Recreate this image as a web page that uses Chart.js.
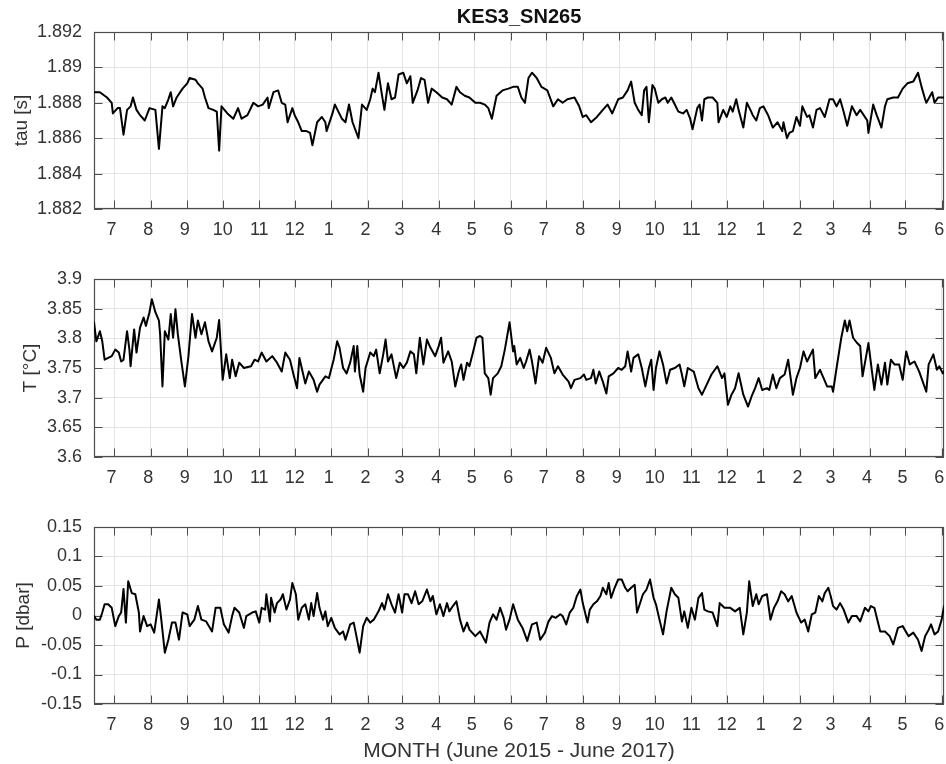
<!DOCTYPE html>
<html>
<head>
<meta charset="utf-8">
<script src="https://cdn.jsdelivr.net/npm/chart.js@4.4.1/dist/chart.umd.min.js"></script>
<style>
html,body{margin:0;padding:0;background:#fff;}
#wrap{position:relative;width:946px;height:764px;overflow:hidden;background:#fff;}
canvas{position:absolute;left:0;}
</style>
</head>
<body>
<div id="wrap">
<canvas id="c1" width="946" height="250" style="top:0px"></canvas>
<canvas id="c2" width="946" height="245" style="top:250px"></canvas>
<canvas id="c3" width="946" height="269" style="top:495px"></canvas>
</div>
<script>
// ---- axis definitions (days counted from 1 July 2015) ----
const monthStartDays = [0,31,62,92,123,153,184,215,244,275,305,336,366,397,428,458,489,519,550,581,609,640,670,701];
const monthLabels = ['7','8','9','10','11','12','1','2','3','4','5','6','7','8','9','10','11','12','1','2','3','4','5','6'];
const dayMin = -17;
const dayMax = 703;
const tauTicks = [1.882,1.884,1.886,1.888,1.89,1.892];
const tempTicks = [3.6,3.65,3.7,3.75,3.8,3.85,3.9];
const presTicks = [-0.15,-0.1,-0.05,0,0.05,0.1,0.15];

// ---- tau [s] ----
const tauDay = [-17,-12,-6,-2,-1,3,5,8,11,14,16,19,22,26,30,35,38,41,43,46,48,50,53,58,62,64,69,71,75,77,80,84,87,89,91,96,101,105,108,113,118,122,126,130,131,135,139,142,145,147,151,153,156,159,163,166,168,172,176,179,180,185,187,190,193,196,199,202,207,210,214,217,219,221,224,227,229,232,235,238,241,245,248,251,253,257,260,263,266,269,273,278,282,286,290,293,297,301,306,310,314,317,320,324,329,334,338,342,345,348,351,354,358,362,367,372,376,380,384,390,394,397,400,404,409,414,418,422,427,431,435,438,441,444,447,449,451,453,456,458,461,464,467,469,472,475,478,482,485,488,490,494,496,498,500,503,507,511,512,516,519,522,524,527,529,533,536,539,541,544,547,550,554,558,562,566,567,570,572,575,578,581,583,587,589,592,595,598,602,606,609,612,615,618,621,625,629,632,634,638,639,643,646,650,653,655,660,664,668,672,677,681,684,687,688,693,695,698,703];
const tauVal = [1.8886,1.8886,1.8883,1.8880,1.8874,1.8877,1.8877,1.8862,1.8876,1.8878,1.8883,1.8876,1.8873,1.8870,1.8877,1.8876,1.8854,1.8878,1.8877,1.8882,1.8886,1.8878,1.8883,1.8888,1.8891,1.8894,1.8893,1.8891,1.8888,1.8883,1.8877,1.8876,1.8875,1.8853,1.8878,1.8874,1.8871,1.8877,1.8871,1.8873,1.8880,1.8878,1.8879,1.8883,1.8877,1.8886,1.8887,1.8880,1.8879,1.8869,1.8877,1.8873,1.8869,1.8864,1.8864,1.8863,1.8856,1.8869,1.8872,1.8869,1.8864,1.8874,1.8879,1.8875,1.8871,1.8869,1.8879,1.8869,1.8860,1.8879,1.8876,1.8882,1.8888,1.8886,1.8897,1.8884,1.8876,1.8891,1.8882,1.8883,1.8896,1.8897,1.8891,1.8895,1.8880,1.8887,1.8894,1.8893,1.8880,1.8888,1.8886,1.8883,1.8882,1.8879,1.8889,1.8886,1.8884,1.8883,1.8880,1.8880,1.8879,1.8877,1.8871,1.8884,1.8887,1.8888,1.8889,1.8889,1.8883,1.8880,1.8894,1.8897,1.8894,1.8889,1.8887,1.8878,1.8882,1.8880,1.8882,1.8883,1.8878,1.8872,1.8873,1.8869,1.8872,1.8876,1.8879,1.8874,1.8882,1.8883,1.8887,1.8892,1.8880,1.8876,1.8873,1.8887,1.8889,1.8869,1.8890,1.8888,1.8880,1.8882,1.8883,1.8880,1.8883,1.8879,1.8875,1.8874,1.8876,1.8871,1.8865,1.8877,1.8879,1.8870,1.8882,1.8883,1.8883,1.8880,1.8869,1.8876,1.8872,1.8878,1.8875,1.8882,1.8876,1.8866,1.8880,1.8876,1.8873,1.8870,1.8877,1.8878,1.8873,1.8866,1.8869,1.8864,1.8869,1.8860,1.8863,1.8864,1.8872,1.8867,1.8878,1.8872,1.8873,1.8866,1.8876,1.8877,1.8872,1.8882,1.8882,1.8878,1.8882,1.8875,1.8867,1.8878,1.8873,1.8876,1.8874,1.8870,1.8863,1.8879,1.8873,1.8866,1.8878,1.8882,1.8883,1.8883,1.8888,1.8891,1.8892,1.8897,1.8889,1.8882,1.8880,1.8886,1.8880,1.8883,1.8883];

// ---- T [degC] ----
const tempDay = [-17,-15,-12,-10,-8,-5,-2,1,4,6,8,11,13,14,17,19,22,25,27,30,32,35,38,39,41,43,46,48,50,52,54,57,60,63,66,69,71,74,77,80,83,87,89,92,95,98,100,103,106,110,116,119,122,125,129,134,138,142,145,149,152,155,157,162,165,169,172,174,179,182,186,189,191,194,197,200,203,204,206,208,211,213,217,220,222,225,228,230,232,235,239,242,245,248,251,254,256,259,262,265,268,272,275,277,279,283,286,289,292,294,296,299,301,304,307,310,312,314,317,319,321,325,328,331,333,335,338,339,341,344,347,349,352,354,357,360,363,366,370,373,376,380,385,387,390,395,398,400,404,406,408,411,414,417,419,423,427,430,433,435,438,440,444,447,450,453,455,457,459,462,465,468,471,475,479,481,483,486,491,495,498,502,506,511,515,517,520,523,526,529,533,537,540,543,546,549,553,555,558,561,564,568,571,575,578,581,584,587,592,594,598,601,604,608,609,612,616,619,621,623,626,629,632,634,639,642,644,647,650,653,655,658,661,665,668,671,674,678,682,685,688,690,694,697,699,702,703];
const tempVal = [3.827,3.795,3.812,3.795,3.764,3.767,3.770,3.781,3.776,3.761,3.764,3.812,3.781,3.753,3.815,3.776,3.818,3.835,3.821,3.844,3.866,3.844,3.830,3.807,3.719,3.812,3.798,3.841,3.801,3.849,3.807,3.761,3.719,3.770,3.841,3.801,3.830,3.807,3.827,3.795,3.778,3.801,3.831,3.730,3.773,3.733,3.764,3.736,3.759,3.750,3.753,3.764,3.761,3.776,3.761,3.770,3.759,3.744,3.776,3.764,3.739,3.716,3.767,3.724,3.744,3.730,3.710,3.722,3.736,3.733,3.764,3.795,3.784,3.750,3.741,3.759,3.787,3.744,3.787,3.739,3.710,3.750,3.776,3.770,3.781,3.741,3.773,3.798,3.761,3.773,3.733,3.759,3.750,3.759,3.778,3.773,3.741,3.801,3.756,3.798,3.784,3.770,3.787,3.801,3.759,3.778,3.761,3.719,3.744,3.756,3.730,3.759,3.753,3.776,3.801,3.804,3.801,3.741,3.733,3.705,3.733,3.741,3.753,3.781,3.804,3.827,3.778,3.787,3.756,3.767,3.750,3.761,3.781,3.761,3.724,3.770,3.759,3.784,3.767,3.741,3.753,3.739,3.727,3.716,3.730,3.733,3.739,3.730,3.733,3.747,3.724,3.744,3.727,3.707,3.736,3.741,3.750,3.747,3.753,3.778,3.744,3.767,3.773,3.750,3.719,3.750,3.764,3.713,3.750,3.778,3.756,3.724,3.747,3.750,3.756,3.739,3.719,3.750,3.744,3.716,3.705,3.722,3.739,3.753,3.733,3.741,3.688,3.705,3.716,3.741,3.705,3.685,3.702,3.716,3.733,3.713,3.716,3.713,3.739,3.716,3.733,3.739,3.764,3.705,3.733,3.750,3.778,3.761,3.781,3.733,3.747,3.733,3.719,3.719,3.710,3.750,3.801,3.830,3.812,3.830,3.801,3.793,3.787,3.736,3.792,3.744,3.713,3.756,3.722,3.759,3.722,3.764,3.756,3.756,3.730,3.778,3.756,3.761,3.744,3.727,3.710,3.756,3.773,3.747,3.753,3.741,3.744];

// ---- P [dbar] ----
const presDay = [-17,-15,-12,-10,-8,-5,-2,1,4,6,8,10,12,15,18,21,22,25,28,31,34,38,40,43,46,49,52,55,58,62,64,68,71,74,78,83,86,90,93,97,100,102,106,110,112,117,120,123,125,128,129,132,133,136,138,141,143,146,149,151,154,156,159,162,165,167,169,172,174,177,179,181,184,187,191,194,196,200,203,205,208,211,214,217,220,224,227,229,232,235,238,241,244,246,249,252,255,258,261,265,268,270,273,276,279,282,284,287,290,293,296,299,301,306,310,315,318,321,324,327,330,332,335,338,342,346,350,354,358,361,365,368,371,374,378,380,383,386,389,392,395,397,401,403,406,409,412,414,417,419,421,424,427,430,433,435,438,441,443,448,451,454,457,459,462,465,468,472,475,478,481,483,486,489,492,495,498,500,503,507,511,513,517,522,526,530,533,536,538,541,544,546,549,553,556,559,562,565,568,571,574,578,582,585,588,591,594,597,600,602,605,607,609,612,615,618,622,625,629,632,636,639,641,644,649,653,657,660,664,668,673,677,681,684,687,690,692,695,698,701,703];
const presVal = [-0.001,-0.007,-0.007,0.005,0.019,0.019,0.013,-0.018,-0.001,0.005,0.045,-0.012,0.058,0.038,0.036,0.005,-0.027,-0.001,-0.018,-0.015,-0.029,0.027,-0.007,-0.063,-0.041,-0.012,-0.012,-0.041,0.005,0.002,-0.018,-0.007,0.016,-0.007,-0.010,-0.027,0.013,0.013,-0.015,-0.029,-0.001,0.013,0.005,-0.021,-0.001,0.005,0.007,-0.012,0.013,0.010,0.036,-0.010,0.030,0.005,0.021,0.027,0.036,0.010,0.027,0.055,0.036,-0.007,0.013,0.019,-0.007,0.021,-0.001,0.038,0.013,-0.007,0.007,-0.018,-0.004,-0.021,-0.032,-0.027,-0.041,-0.015,-0.012,-0.032,-0.063,-0.018,-0.004,-0.012,-0.007,0.007,0.021,0.010,0.036,0.019,0.005,0.036,0.005,0.036,0.036,0.021,0.041,0.019,0.024,0.044,0.024,0.033,0.002,0.019,-0.001,0.021,0.007,0.016,0.024,-0.007,-0.027,-0.012,-0.024,-0.035,-0.027,-0.046,-0.012,0.002,-0.007,0.013,-0.004,-0.024,-0.007,0.019,-0.007,-0.021,-0.043,-0.015,-0.012,-0.041,-0.029,-0.010,-0.001,-0.004,0.002,-0.001,-0.015,0.005,0.013,0.033,0.044,0.021,-0.012,0.010,0.019,0.024,0.033,0.047,0.036,0.055,0.030,0.047,0.061,0.061,0.047,0.041,0.047,0.052,0.005,0.036,0.044,0.061,0.030,0.019,-0.007,-0.032,0.007,0.047,0.036,0.030,-0.010,0.007,-0.021,0.013,-0.007,0.030,0.038,0.010,0.007,0.005,-0.018,0.021,0.013,0.013,0.007,0.013,-0.032,0.005,0.058,0.016,0.036,0.019,0.033,0.036,-0.007,0.013,0.024,0.041,0.036,0.024,0.033,0.005,-0.012,-0.007,-0.027,0.002,0.005,0.033,0.024,0.038,0.047,0.033,0.016,0.010,0.021,0.010,-0.012,-0.001,-0.001,-0.010,0.013,0.007,0.016,0.013,-0.027,-0.027,-0.035,-0.049,-0.021,-0.018,-0.035,-0.029,-0.041,-0.060,-0.035,-0.024,-0.015,-0.032,-0.027,-0.007,0.016];

const FONT = '"Liberation Sans", Arial, Helvetica, sans-serif';
const TEXT = '#333333';
const GRID = '#e4e4e4';
const AXIS = '#4d4d4d';

// inward tick marks on all four sides + box, drawn under the data line
const framePlugin = {
  id: 'frame',
  beforeDatasetsDraw(chart) {
    const ctx = chart.ctx, a = chart.chartArea;
    const xs = chart.scales.x, ys = chart.scales.y;
    const L = 8.5;
    ctx.save();
    ctx.strokeStyle = AXIS;
    ctx.lineWidth = 1;
    ctx.beginPath();
    xs.ticks.forEach(t => {
      const p = Math.round(xs.getPixelForValue(t.value)) + 0.5;
      ctx.moveTo(p, a.top); ctx.lineTo(p, a.top + L);
      ctx.moveTo(p, a.bottom); ctx.lineTo(p, a.bottom - L);
    });
    ys.ticks.forEach(t => {
      const p = Math.round(ys.getPixelForValue(t.value)) + 0.5;
      ctx.moveTo(a.left, p); ctx.lineTo(a.left + L, p);
      ctx.moveTo(a.right, p); ctx.lineTo(a.right - L, p);
    });
    ctx.stroke();
    ctx.lineWidth = 1.2;
    ctx.strokeRect(Math.round(a.left) + 0.5, Math.round(a.top) + 0.5,
                   Math.round(a.right - a.left) - 1, Math.round(a.bottom - a.top) - 1);
    ctx.restore();
  }
};

function makeChart(id, days, vals, yTicks, yTitle, yTitlePad, o) {
  return new Chart(document.getElementById(id), {
    type: 'line',
    data: {
      datasets: [{
        data: days.map((d, i) => ({ x: d, y: vals[i] })),
        borderColor: '#000000',
        borderWidth: 2,
        borderJoinStyle: 'round',
        borderCapStyle: 'round',
        pointRadius: 0,
        tension: 0,
        fill: false
      }]
    },
    options: {
      responsive: false,
      animation: false,
      devicePixelRatio: 1,
      events: [],
      layout: { padding: { left: 0, right: 2, top: o.padTop, bottom: 0 } },
      plugins: {
        legend: { display: false },
        tooltip: { enabled: false },
        title: o.title || { display: false }
      },
      scales: {
        x: {
          type: 'linear',
          min: dayMin,
          max: dayMax,
          afterBuildTicks: s => { s.ticks = monthStartDays.map(v => ({ value: v })); },
          afterFit: s => {
            s.height = o.xHeight;
            s.paddingLeft = 0; s.paddingRight = 0; s.paddingTop = 0; s.paddingBottom = 0;
          },
          grid: { color: GRID, lineWidth: 1, drawTicks: false },
          border: { display: false },
          ticks: {
            autoSkip: false, maxRotation: 0, minRotation: 0, padding: 10,
            color: TEXT, font: { family: FONT, size: 18 },
            callback: v => {
              const i = monthStartDays.indexOf(v);
              if (i < 0) return '';
              const s = monthLabels[i];
              return s.length === 1 ? s + ' ' : s;
            }
          },
          title: o.xTitle || { display: false }
        },
        y: {
          type: 'linear',
          min: yTicks[0],
          max: yTicks[yTicks.length - 1],
          afterBuildTicks: s => { s.ticks = yTicks.map(v => ({ value: v })); },
          afterFit: s => {
            s.width = 94;
            s.paddingLeft = 0; s.paddingRight = 0; s.paddingTop = 0; s.paddingBottom = 0;
          },
          grid: { color: GRID, lineWidth: 1, drawTicks: false },
          border: { display: false },
          ticks: {
            padding: 12, color: TEXT, font: { family: FONT, size: 18 },
            callback: v => String(+Number(v).toFixed(4))
          },
          title: {
            display: true, text: yTitle, color: TEXT,
            font: { family: FONT, size: 19 },
            padding: { top: yTitlePad, bottom: 0 }
          }
        }
      }
    },
    plugins: [framePlugin]
  });
}

makeChart('c1', tauDay, tauVal, tauTicks, 'tau [s]', 10, {
  padTop: 0, xHeight: 41,
  title: {
    display: true, text: 'KES3_SN265', fullSize: false, color: '#111111',
    font: { family: FONT, size: 20, weight: 'bold' },
    padding: { top: 5, bottom: 3 }
  }
});
makeChart('c2', tempDay, tempVal, tempTicks, 'T [°C]', 19, { padTop: 29, xHeight: 38 });
makeChart('c3', presDay, presVal, presTicks, 'P [dbar]', 12, {
  padTop: 32, xHeight: 60,
  xTitle: {
    display: true, text: 'MONTH (June 2015 - June 2017)', color: TEXT,
    font: { family: FONT, size: 21 },
    padding: { top: 0, bottom: 0.6 }
  }
});
</script>
</body>
</html>
